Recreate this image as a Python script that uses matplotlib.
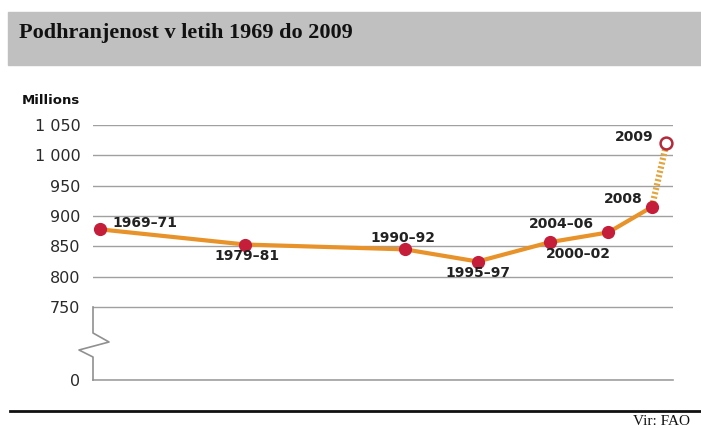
import numpy as np
import matplotlib
matplotlib.use("Agg")
import matplotlib.pyplot as plt
from matplotlib.lines import Line2D
from matplotlib.patches import Rectangle

# ---- data ----
periods = ["1969–71", "1979–81", "1990–92", "1995–97", "2000–02", "2004–06", "2008", "2009"]
years = [1970, 1980, 1991, 1996, 2001, 2005, 2008, 2009]
values = [878, 853, 845, 825, 857, 873, 915, 1020]
yticks = [0, 750, 800, 850, 900, 950, 1000, 1050]
ytick_labels = ["0", "750", "800", "850", "900", "950", "1 000", "1 050"]
label_offsets = [(12, 6, "left"), (2, -11, "center"), (-2, 11, "center"), (0, -11, "center"),
                 (28, -12, "center"), (-47, 8, "center"), (-9, 8, "right"), (-13, 6, "right")]

W, H = 701, 428
fig = plt.figure(figsize=(W / 100, H / 100), dpi=100)

def fx(px):
    return px / W

def fy(py):
    return 1 - py / H

# title band
fig.patches.append(Rectangle((fx(8), fy(65)), fx(701) - fx(8), fy(12) - fy(65),
                             transform=fig.transFigure, color="#c0c0c0", zorder=0))
fig.text(fx(19), fy(33), "Podhranjenost v letih 1969 do 2009", family="Liberation Serif",
         weight="bold", fontsize=16, color="#111111", va="center", ha="left")

fig.text(fx(22), fy(101), "Millions", family="DejaVu Sans", weight="bold", fontsize=9.5,
         color="#111111", va="center", ha="left")

# axes
left, right, top, bottom = 93, 673, 125, 380
ax = fig.add_axes([fx(left), fy(bottom), fx(right) - fx(left), fy(top) - fy(bottom)])

k = 0.1604
def forward(y):
    y = np.asarray(y, dtype=float)
    return np.where(y >= 750, y, 750 - (750 - y) * k)

def inverse(v):
    v = np.asarray(v, dtype=float)
    return np.where(v >= 750, v, 750 - (750 - v) / k)

ax.set_yscale("function", functions=(forward, inverse))
ax.set_ylim(0, 1050)
ax.set_xlim(1969.52, 2009.45)
ax.set_yticks(yticks)
ax.set_yticklabels(ytick_labels)
ax.set_xticks([])
ax.tick_params(axis="y", length=0, pad=9, labelsize=11.5, labelcolor="#2a2a2a")
for lab in ax.get_yticklabels():
    lab.set_family("DejaVu Sans")
for s in ax.spines.values():
    s.set_visible(False)
ax.yaxis.grid(True, color="#a0a0a0", lw=1)
ax.set_axisbelow(True)
ax.patch.set_alpha(0)
ax.axhline(0, color="#a0a0a0", lw=1.2, clip_on=False, zorder=1)

# main line
ax.plot(years[:-1], values[:-1], color="#e8922a", lw=3, zorder=2, solid_capstyle="round")
ax.plot(years[-2:], values[-2:], color="#e2a640", lw=4.5, dashes=(0.35, 0.35), zorder=2)
ax.plot(years[:-1], values[:-1], "o", color="#c41e3a", ms=8.5, zorder=3)
ax.plot(years[-1:], values[-1:], "o", mfc="white", mec="#b52a3a", mew=1.8, ms=8.5, zorder=3)

for p, x, v, (dx, dy, ha) in zip(periods, years, values, label_offsets):
    ax.annotate(p, (x, v), xytext=(dx, dy), textcoords="offset pixels", ha=ha, va="center",
                fontsize=10, weight="bold", color="#222222", family="DejaVu Sans")

# broken left axis with zigzag
zx = [93, 93, 109, 79, 93, 93]
zy = [307, 333, 342, 350, 357, 380]
fig.lines.append(Line2D([fx(x) for x in zx], [fy(y) for y in zy], transform=fig.transFigure,
                        color="#909090", lw=1.2))

# bottom rule and source
fig.lines.append(Line2D([fx(10), fx(701)], [fy(411), fy(411)], transform=fig.transFigure,
                        color="#111111", lw=2))
fig.text(fx(690), fy(425), "Vir: FAO", family="Liberation Serif", fontsize=11,
         color="#111111", ha="right", va="baseline")

fig.savefig("out.png", dpi=100)
